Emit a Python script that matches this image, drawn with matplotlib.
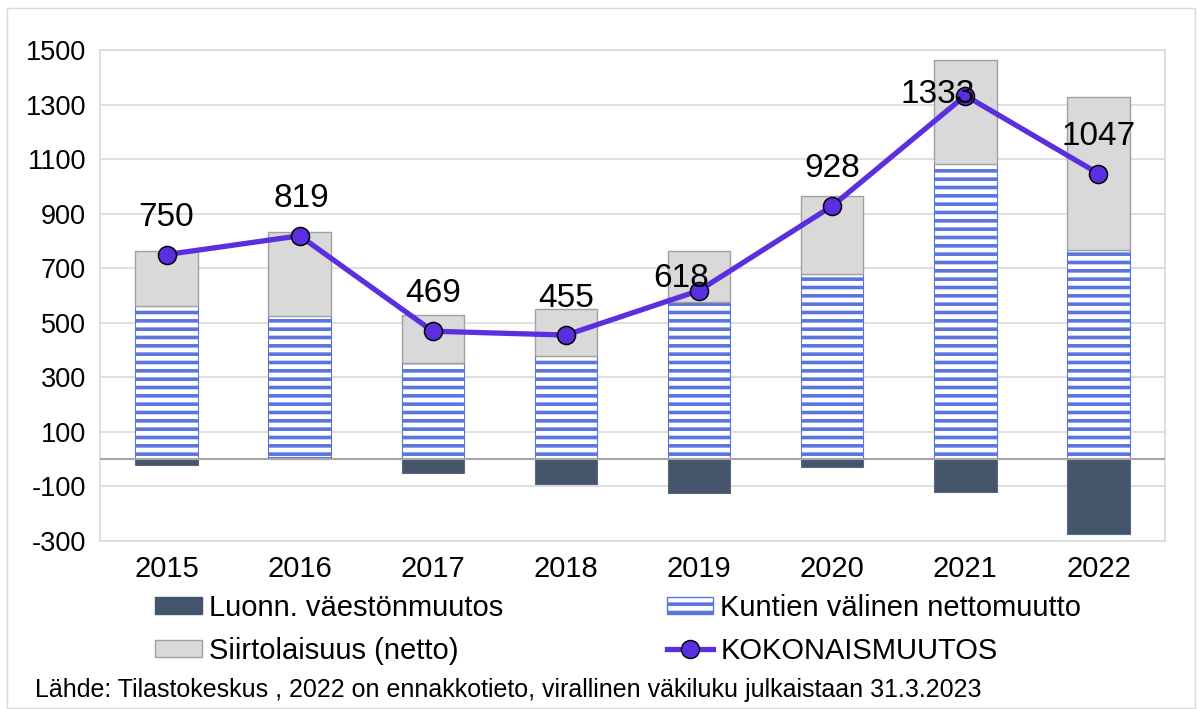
import matplotlib.pyplot as plt
import matplotlib.patches as mpatches
import matplotlib.lines as mlines
import numpy as np

plt.rcParams['font.family'] = ['Liberation Sans', 'DejaVu Sans']
plt.rcParams['axes.unicode_minus'] = False
plt.rcParams['hatch.linewidth'] = 2.6

# data
years = ['2015', '2016', '2017', '2018', '2019', '2020', '2021', '2022']
luonn = [-22, 8, -52, -92, -125, -28, -120, -273]
kuntien = [563, 517, 351, 378, 575, 678, 1083, 768]
siirto = [199, 307, 177, 171, 189, 288, 381, 559]
kokonais = [750, 819, 469, 455, 618, 928, 1333, 1047]

# label offsets (points) for total labels
label_dx = [0, 1, 0, 0, -13, 0, -20, 0]
label_dy = [27, 27, 27, 26, 9, 27, 1, 27]

c_dark = '#44546A'
c_blue = '#5B74DE'
c_gray = '#D9D9D9'
c_line = '#5B2EE0'

fig = plt.figure(figsize=(12.02, 7.09), dpi=100)
fig.patches.append(mpatches.Rectangle((7 / 1202, 1 / 709), 1188 / 1202, 700 / 709,
                                      transform=fig.transFigure, fill=False,
                                      edgecolor='#D9D9D9', linewidth=1))
ax = fig.add_axes([100 / 1202, 1 - 541 / 709, 1065 / 1202, 491 / 709])

x = np.arange(len(years))
w = 0.47
luonn = np.array(luonn)
kuntien = np.array(kuntien)
siirto = np.array(siirto)
pos_base = np.where(luonn > 0, luonn, 0)

ax.bar(x, luonn, w, color=c_dark, edgecolor='#5A6880', linewidth=0.8, zorder=2)
ax.bar(x, kuntien, w, bottom=pos_base, color='white', edgecolor=c_blue,
       hatch='--', linewidth=0.8, zorder=2)
ax.bar(x, siirto, w, bottom=pos_base + kuntien, color=c_gray, edgecolor='#A0A0A0',
       linewidth=1, zorder=2)

ax.plot(x, kokonais, color=c_line, linewidth=3.8, marker='o', markersize=13,
        markerfacecolor=c_line, markeredgecolor='black', markeredgewidth=1.1, zorder=4)

for i, v in enumerate(kokonais):
    ax.annotate(str(v), (x[i], v), xytext=(label_dx[i], label_dy[i]),
                textcoords='offset points', ha='center', va='center', fontsize=24,
                color='black', zorder=5)

ax.set_xlim(-0.5, len(years) - 0.5)
ax.set_ylim(-300, 1500)
ax.set_yticks(np.arange(-300, 1501, 200))
ax.set_xticks(x)
ax.set_xticklabels(years)
ax.tick_params(axis='y', length=0, labelsize=19.5, pad=10)
ax.tick_params(axis='x', length=0, labelsize=21, pad=10)
ax.grid(axis='y', color='#D9D9D9', linewidth=1.2, zorder=0)
ax.set_axisbelow(True)
ax.axhline(0, color='#A6A6A6', linewidth=1.5, zorder=3)
for s in ax.spines.values():
    s.set_color('#D9D9D9')
    s.set_linewidth(1.2)

h_luonn = mpatches.Patch(facecolor=c_dark, edgecolor=c_dark)
h_kunt = mpatches.Patch(facecolor='white', edgecolor=c_blue, hatch='--')
h_siirto = mpatches.Patch(facecolor=c_gray, edgecolor='#A0A0A0')
h_koko = mlines.Line2D([], [], color=c_line, linewidth=3.8, marker='o', markersize=13,
                       markerfacecolor=c_line, markeredgecolor='black')
fig.legend([h_luonn, h_siirto, h_kunt, h_koko],
           ['Luonn. väestönmuutos', 'Siirtolaisuus (netto)',
            'Kuntien välinen nettomuutto', 'KOKONAISMUUTOS'],
           ncol=2, loc='upper left', bbox_to_anchor=(155 / 1202, 1 - 594 / 709),
           frameon=False, fontsize=21, handlelength=1.6, handleheight=0.5,
           handletextpad=0.25, columnspacing=5.6, labelspacing=0.5, borderpad=0,
           borderaxespad=0)

fig.text(35 / 1202, 1 - 690 / 709,
         'Lähde: Tilastokeskus , 2022 on ennakkotieto, virallinen väkiluku julkaistaan 31.3.2023',
         fontsize=18, va='center', ha='left')

fig.savefig('out.png', dpi=100)
